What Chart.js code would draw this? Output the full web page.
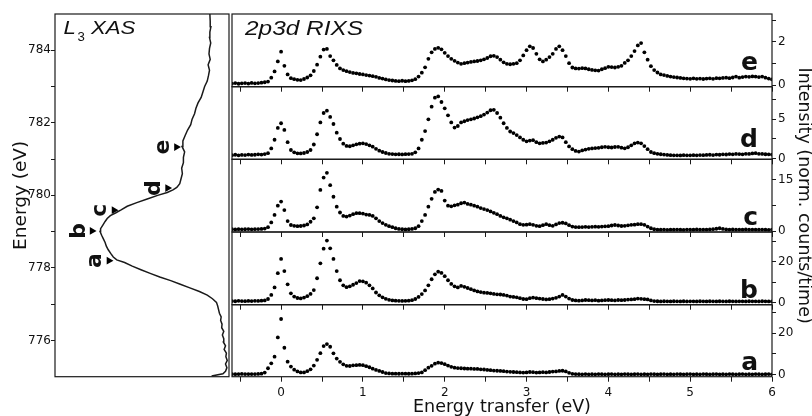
<!DOCTYPE html>
<html><head><meta charset="utf-8">
<script src="https://cdn.jsdelivr.net/npm/chart.js@4"></script>
<style>
html,body{margin:0;padding:0;background:#fff}
#wrap{position:relative;width:812px;height:416px;background:#fff;overflow:hidden}
#wrap canvas{position:absolute;left:0;top:0}
</style></head>
<body><div id="wrap"></div>
<script>
// ---------- DATA ----------
// energy transfer grid (eV) shared by the five RIXS spectra
const transferEV = [
-0.60,-0.56,-0.52,-0.48,-0.44,-0.40,-0.36,-0.32,-0.28,-0.24,
-0.20,-0.16,-0.12,-0.08,-0.04,0.00,0.04,0.08,0.12,0.16,
0.20,0.24,0.28,0.32,0.36,0.40,0.44,0.48,0.52,0.56,
0.60,0.64,0.68,0.72,0.76,0.80,0.84,0.88,0.92,0.96,
1.00,1.04,1.08,1.12,1.16,1.20,1.24,1.28,1.32,1.36,
1.40,1.44,1.48,1.52,1.56,1.60,1.64,1.68,1.72,1.76,
1.80,1.84,1.88,1.92,1.96,2.00,2.04,2.08,2.12,2.16,
2.20,2.24,2.28,2.32,2.36,2.40,2.44,2.48,2.52,2.56,
2.60,2.64,2.68,2.72,2.76,2.80,2.84,2.88,2.92,2.96,
3.00,3.04,3.08,3.12,3.16,3.20,3.24,3.28,3.32,3.36,
3.40,3.44,3.48,3.52,3.56,3.60,3.64,3.68,3.72,3.76,
3.80,3.84,3.88,3.92,3.96,4.00,4.04,4.08,4.12,4.16,
4.20,4.24,4.28,4.32,4.36,4.40,4.44,4.48,4.52,4.56,
4.60,4.64,4.68,4.72,4.76,4.80,4.84,4.88,4.92,4.96,
5.00,5.04,5.08,5.12,5.16,5.20,5.24,5.28,5.32,5.36,
5.40,5.44,5.48,5.52,5.56,5.60,5.64,5.68,5.72,5.76,
5.80,5.84,5.88,5.92,5.96,6.00];

const rixsE = [
0.08,0.10,0.07,0.09,0.10,0.08,0.11,0.09,0.10,0.12,
0.14,0.17,0.35,0.64,1.10,1.55,0.90,0.50,0.33,0.28,
0.25,0.24,0.29,0.36,0.46,0.66,0.95,1.32,1.65,1.68,
1.35,1.15,0.94,0.78,0.70,0.65,0.61,0.57,0.55,0.52,
0.50,0.47,0.45,0.42,0.39,0.34,0.31,0.27,0.24,0.22,
0.20,0.19,0.21,0.19,0.20,0.23,0.28,0.40,0.58,0.83,
1.22,1.52,1.68,1.73,1.66,1.50,1.35,1.22,1.13,1.05,
0.99,1.02,1.05,1.08,1.10,1.12,1.15,1.20,1.26,1.34,
1.36,1.30,1.18,1.06,0.99,0.97,0.99,1.02,1.15,1.38,
1.62,1.80,1.72,1.45,1.20,1.10,1.18,1.30,1.45,1.68,
1.80,1.62,1.35,1.02,0.82,0.78,0.77,0.79,0.78,0.74,
0.71,0.69,0.68,0.74,0.79,0.85,0.84,0.82,0.85,0.90,
1.03,1.15,1.35,1.58,1.84,1.95,1.52,1.18,0.88,0.70,
0.59,0.50,0.47,0.43,0.40,0.38,0.36,0.34,0.32,0.31,
0.30,0.32,0.30,0.31,0.29,0.31,0.32,0.30,0.33,0.32,
0.34,0.35,0.33,0.36,0.40,0.35,0.38,0.40,0.39,0.41,
0.40,0.38,0.40,0.35,0.31,0.27];

const rixsD = [
0.45,0.50,0.42,0.48,0.46,0.52,0.47,0.50,0.55,0.52,
0.58,0.70,1.30,2.40,3.90,4.50,3.65,2.10,1.10,0.80,
0.68,0.66,0.72,0.85,1.10,1.80,3.10,4.60,5.80,6.10,
5.30,4.40,3.30,2.50,1.90,1.62,1.58,1.70,1.82,1.90,
1.95,1.85,1.70,1.52,1.25,1.02,0.85,0.72,0.62,0.58,
0.55,0.56,0.54,0.57,0.58,0.62,0.80,1.30,2.40,3.50,
5.00,6.60,7.75,7.90,7.20,6.40,5.50,4.60,3.95,4.15,
4.60,4.75,4.90,5.00,5.10,5.25,5.40,5.60,5.85,6.15,
6.20,5.80,5.20,4.50,3.90,3.45,3.25,3.00,2.70,2.40,
2.20,2.30,2.35,2.10,1.95,2.00,2.05,2.20,2.40,2.65,
2.80,2.70,2.10,1.55,1.20,0.98,0.90,1.05,1.15,1.25,
1.30,1.35,1.38,1.45,1.50,1.45,1.42,1.48,1.50,1.40,
1.32,1.45,1.70,1.95,2.05,1.95,1.60,1.20,0.85,0.70,
0.62,0.56,0.52,0.48,0.45,0.42,0.43,0.41,0.44,0.42,
0.43,0.45,0.42,0.46,0.44,0.47,0.50,0.46,0.52,0.50,
0.55,0.53,0.58,0.55,0.60,0.58,0.55,0.62,0.60,0.66,
0.70,0.62,0.60,0.56,0.55,0.52];

const rixsC = [
0.60,0.55,0.62,0.58,0.60,0.65,0.58,0.62,0.66,0.70,
0.80,1.20,2.60,4.80,7.50,8.70,6.20,3.00,1.85,1.60,
1.50,1.55,1.70,2.00,2.80,3.80,7.00,12.1,15.7,17.1,
13.5,10.1,7.2,5.5,4.5,4.3,4.6,5.0,5.3,5.3,
5.2,4.9,4.8,4.5,3.8,3.0,2.4,1.9,1.5,1.2,
0.9,0.7,0.6,0.55,0.6,0.7,0.9,1.5,3.0,4.8,
7.2,9.5,11.5,12.2,11.8,9.0,7.5,7.3,7.6,7.8,
8.2,8.4,8.0,7.8,7.5,7.2,6.8,6.5,6.2,5.8,
5.4,5.0,4.5,4.1,3.8,3.4,3.0,2.6,2.1,1.9,
1.95,2.1,1.9,1.6,1.5,1.8,2.1,1.8,1.6,2.0,
2.4,2.5,2.3,1.8,1.4,1.25,1.2,1.25,1.3,1.25,
1.3,1.35,1.3,1.4,1.45,1.5,1.7,1.85,1.7,1.55,
1.6,1.75,1.9,1.95,2.1,2.1,1.9,1.4,0.9,0.6,
0.5,0.48,0.52,0.45,0.50,0.47,0.52,0.48,0.45,0.50,
0.47,0.50,0.55,0.48,0.52,0.50,0.55,0.62,0.75,0.90,
0.70,0.55,0.50,0.53,0.48,0.52,0.50,0.55,0.48,0.52,
0.50,0.47,0.52,0.48,0.45,0.50];

const rixsB = [
0.8,0.7,0.9,0.8,0.75,0.85,0.8,0.9,0.85,1.0,
1.1,1.8,3.8,7.5,14.5,21.5,15.5,9.0,4.6,3.0,
2.3,2.1,2.5,3.2,4.3,6.2,12.0,19.3,26.5,30.5,
26.7,21.5,15.5,11.0,8.5,7.6,8.0,8.8,9.6,10.6,
10.5,9.8,8.5,7.0,5.0,3.6,2.6,1.9,1.4,1.1,
1.0,0.9,0.85,0.9,1.0,1.2,1.8,2.8,4.2,6.0,
8.5,11.5,13.9,15.2,14.6,13.0,11.0,9.2,8.0,7.5,
8.2,7.8,7.2,6.6,6.0,5.5,5.2,4.9,4.8,4.6,
4.3,4.1,4.0,3.8,3.5,3.0,2.8,2.6,2.2,1.8,
1.7,2.2,2.5,2.2,2.0,1.8,1.6,1.7,2.0,2.4,
3.0,3.8,3.0,2.0,1.3,1.1,1.0,1.1,1.3,1.2,
1.1,1.2,1.0,1.1,1.2,1.3,1.2,1.1,1.3,1.2,
1.3,1.5,1.6,1.7,2.0,1.9,1.7,1.6,1.1,0.8,
0.7,0.6,0.7,0.65,0.6,0.7,0.65,0.6,0.7,0.62,
0.68,0.65,0.6,0.7,0.65,0.6,0.7,0.65,0.62,0.7,
0.66,0.6,0.7,0.65,0.62,0.68,0.65,0.6,0.7,0.64,
0.66,0.6,0.7,0.65,0.62,0.6];

const rixsA = [
0.3,0.25,0.3,0.35,0.3,0.28,0.32,0.3,0.35,0.5,
1.0,3.1,5.5,8.7,18.0,26.9,13.0,6.3,3.9,2.4,
1.6,1.1,1.1,1.7,2.6,4.4,7.2,10.4,13.8,14.8,
13.5,10.3,7.8,6.2,5.0,4.3,4.2,4.5,4.6,4.7,
4.6,4.1,3.6,2.9,2.3,1.8,1.3,0.8,0.6,0.5,
0.5,0.45,0.5,0.5,0.45,0.5,0.6,0.8,1.1,2.2,
3.4,4.3,5.3,5.8,5.6,5.1,4.4,3.8,3.4,3.2,
3.1,3.0,2.9,2.9,2.8,2.8,2.6,2.5,2.3,2.2,
2.0,1.9,1.8,1.7,1.5,1.4,1.3,1.2,1.1,1.0,
1.1,1.3,1.2,1.0,1.1,1.2,1.1,1.3,1.5,1.6,
1.8,1.9,1.6,0.9,0.4,0.3,0.25,0.2,0.3,0.2,
0.25,0.2,0.3,0.25,0.2,0.25,0.3,0.2,0.25,0.2,
0.3,0.25,0.2,0.25,0.3,0.2,0.25,0.2,0.3,0.25,
0.2,0.25,0.3,0.2,0.25,0.2,0.3,0.25,0.2,0.25,
0.3,0.2,0.25,0.2,0.3,0.25,0.2,0.25,0.3,0.2,
0.25,0.2,0.3,0.25,0.2,0.25,0.3,0.2,0.25,0.2,
0.3,0.25,0.2,0.25,0.3,0.2];

// L3 XAS (energy vertical, intensity horizontal, arb. units)
const xasEnergy = [
775.02,775.08,775.15,775.25,775.35,775.45,775.55,775.65,775.75,775.85,
775.95,776.05,776.15,776.25,776.35,776.45,776.55,776.65,776.75,776.85,
776.95,777.05,777.15,777.25,777.35,777.45,777.55,777.65,777.75,777.85,
777.95,778.05,778.15,778.22,778.30,778.40,778.50,778.60,778.70,778.80,
778.90,779.00,779.08,779.18,779.28,779.36,779.44,779.52,779.60,779.70,
779.80,779.90,780.00,780.08,780.15,780.22,780.32,780.45,780.60,780.75,
780.90,781.05,781.20,781.35,781.50,781.65,781.80,781.95,782.10,782.25,
782.40,782.55,782.70,782.85,783.00,783.15,783.30,783.45,783.60,783.75,
783.90,784.05,784.20,784.35,784.50,784.65,784.80,785.00];
const xasIntensity = [
0.10,0.035,0.02,0.012,0.02,0.010,0.018,0.015,0.028,0.020,
0.032,0.030,0.038,0.030,0.042,0.040,0.048,0.045,0.055,0.060,
0.065,0.072,0.095,0.125,0.17,0.225,0.28,0.335,0.398,0.453,
0.506,0.556,0.60,0.645,0.665,0.680,0.694,0.705,0.712,0.722,
0.732,0.741,0.738,0.725,0.712,0.700,0.682,0.650,0.620,0.585,
0.530,0.470,0.410,0.355,0.322,0.300,0.283,0.276,0.268,0.272,
0.262,0.262,0.255,0.270,0.265,0.252,0.238,0.220,0.212,0.198,
0.190,0.178,0.160,0.150,0.140,0.125,0.118,0.112,0.120,0.108,
0.115,0.112,0.105,0.112,0.110,0.104,0.108,0.110];

const markerLetters = ['a','b','c','d','e'];
const markerEnergy = [778.20,779.02,779.59,780.20,781.33];
const markerIntensity = [0.690,0.787,0.661,0.353,0.302];

const xasTicks = [776,777,778,779,780,781,782,783,784];
const xasTickLabels = [776,778,780,782,784];
const transferTicks = [-0.5,0,0.5,1,1.5,2,2.5,3,3.5,4,4.5,5,5.5,6];
const transferTickLabels = [0,1,2,3,4,5,6];
const ticksE = [0,1,2,3],     labelsE = [0,2];
const ticksD = [0,2.5,5,7.5], labelsD = [0,5];
const ticksC = [0,7.5,15],    labelsC = [0,15];
const ticksB = [0,10,20,30],  labelsB = [0,20];
const ticksA = [0,10,20,30],  labelsA = [0,20];

// ---------- RENDER ----------
Chart.defaults.font.family = "'DejaVu Sans', sans-serif";
Chart.defaults.color = '#111';
const INK = '#1a1a1a';
const W = 812, H = 416;
const wrap = document.getElementById('wrap');
function makeCanvas(){ const c = document.createElement('canvas'); c.width = W; c.height = H; c.style.width = W+'px'; c.style.height = H+'px'; wrap.appendChild(c); return c; }

const framePlugin = { id:'frame', afterDraw(chart){
  const {ctx, chartArea:a} = chart; ctx.save(); ctx.strokeStyle = INK; ctx.lineWidth = 1.2;
  ctx.strokeRect(a.left, a.top, a.right-a.left, a.bottom-a.top); ctx.restore(); } };

function stretchText(ctx, text, x, y, font, sx){
  ctx.save(); ctx.font = font; ctx.fillStyle = '#111'; ctx.textAlign = 'left'; ctx.textBaseline = 'alphabetic';
  ctx.translate(x, y); ctx.scale(sx, 1); ctx.fillText(text, 0, 0); ctx.restore();
}

const xasTextPlugin = { id:'xasText', afterDraw(chart){
  const ctx = chart.ctx, xs = chart.scales.x, ys = chart.scales.y;
  stretchText(ctx, 'L', 63.5, 34, "italic 18.5px 'Liberation Sans'", 1.2);
  stretchText(ctx, '3', 77.5, 41, "12px 'Liberation Sans'", 1.1);
  stretchText(ctx, 'XAS', 91, 34, "italic 18.5px 'Liberation Sans'", 1.2);
  ctx.save(); ctx.fillStyle = '#111'; ctx.font = "bold 22px 'DejaVu Sans'";
  ctx.textAlign = 'center'; ctx.textBaseline = 'alphabetic';
  markerLetters.forEach((l,i)=>{
    const px = xs.getPixelForValue(markerIntensity[i]) - 7.5;
    const py = ys.getPixelForValue(markerEnergy[i]);
    ctx.save(); ctx.translate(px, py); ctx.rotate(-Math.PI/2); ctx.fillText(l, 0, 0); ctx.restore();
  });
  ctx.restore();
} };

new Chart(makeCanvas(), {
  type:'scatter',
  data:{ datasets:[
    { data: xasEnergy.map((e,i)=>({x:xasIntensity[i], y:e})), showLine:true, borderColor:INK, borderWidth:1.5, pointRadius:0, tension:0 },
    { data: markerEnergy.map((e,i)=>({x:markerIntensity[i], y:e})), showLine:false, pointStyle:'triangle', pointRotation:90, pointRadius:4.5, pointBackgroundColor:'#000', pointBorderColor:'#000', pointBorderWidth:0 }
  ]},
  options:{
    responsive:false, animation:false, devicePixelRatio:1,
    layout:{ padding:{ left:0, right:W-229, top:14, bottom:H-376.7 } },
    plugins:{ legend:{display:false}, tooltip:{enabled:false} },
    scales:{
      x:{ type:'linear', reverse:true, min:0, max:1, display:false },
      y:{ type:'linear', position:'left', min:775, max:785,
        afterFit(s){ s.width = 55; },
        afterBuildTicks(s){ s.ticks = xasTicks.map(v=>({value:v})); },
        ticks:{ autoSkip:false, padding:0, font:{size:12}, color:'#111', callback:v=> xasTickLabels.includes(v) ? String(v) : '' },
        grid:{ drawOnChartArea:false, tickLength:4, color:INK },
        border:{ display:false },
        title:{ display:true, text:'Energy (eV)', font:{size:18.5, lineHeight:1.2}, padding:{top:10,bottom:0}, color:'#111' }
      }
    }
  },
  plugins:[framePlugin, xasTextPlugin]
});

const panels = [
  { letter:'e', values:rixsE, ticks:ticksE, labels:labelsE, min:-0.065, max:3.29, top:14,    bottom:86.7,  letterBase:70 },
  { letter:'d', values:rixsD, ticks:ticksD, labels:labelsD, min:-0.08,  max:9.14, top:86.7,  bottom:159.3, letterBase:146.5 },
  { letter:'c', values:rixsC, ticks:ticksC, labels:labelsC, min:-0.2,   max:21.05,top:159.3, bottom:232,   letterBase:225, yTitle:true },
  { letter:'b', values:rixsB, ticks:ticksB, labels:labelsB, min:-1.0,   max:34.7, top:232,   bottom:304.7, letterBase:298 },
  { letter:'a', values:rixsA, ticks:ticksA, labels:labelsA, min:-0.97,  max:33.8, top:304.7, bottom:376.7, letterBase:370, xLabels:true }
];

panels.forEach((p, idx) => {
  const xH = p.xLabels ? (H - p.bottom) : 8;
  const letterPlugin = { id:'letter'+idx, afterDraw(chart){
    const ctx = chart.ctx; ctx.save(); ctx.fillStyle = '#111'; ctx.font = "bold 25px 'DejaVu Sans'";
    ctx.textAlign = 'right'; ctx.textBaseline = 'alphabetic'; ctx.fillText(p.letter, 758, p.letterBase); ctx.restore();
    if (idx === 0) stretchText(ctx, '2p3d RIXS', 245, 34.7, "italic 20.5px 'Liberation Sans'", 1.19);
  } };
  new Chart(makeCanvas(), {
    type:'scatter',
    data:{ datasets:[{ data: transferEV.map((x,i)=>({x, y:p.values[i]})), showLine:false,
      pointRadius:1.9, pointBackgroundColor:'#000', pointBorderWidth:0, pointBorderColor:'#000' }] },
    options:{
      responsive:false, animation:false, devicePixelRatio:1,
      layout:{ padding:{ left:232, right:0, top:p.top, bottom: H - p.bottom - xH } },
      plugins:{ legend:{display:false}, tooltip:{enabled:false} },
      scales:{
        x:{ type:'linear', position:'bottom', min:-0.6, max:6,
          afterFit(s){ s.height = xH; },
          afterBuildTicks(s){ s.ticks = transferTicks.map(v=>({value:v})); },
          ticks:{ display:!!p.xLabels, autoSkip:false, maxRotation:0, padding:4, font:{size:12}, color:'#111',
            callback:v=> transferTickLabels.includes(v) ? String(v) : '' },
          grid:{ drawOnChartArea:false, tickLength:5, color:INK },
          border:{ display:false },
          title:{ display:!!p.xLabels, text:'Energy transfer (eV)', font:{size:17.5, lineHeight:1}, padding:{top:0,bottom:0}, color:'#111' }
        },
        y:{ type:'linear', position:'right', min:p.min, max:p.max,
          afterFit(s){ s.width = 40; },
          afterBuildTicks(s){ s.ticks = p.ticks.map(v=>({value:v})); },
          ticks:{ autoSkip:false, padding:2, font:{size:12}, color:'#111',
            callback:v=> p.labels.includes(v) ? String(v) : '' },
          grid:{ drawOnChartArea:false, tickLength:4, color:INK },
          border:{ display:false },
          title:{ display:!!p.yTitle, text:'Intensity (norm. counts/time)', font:{size:17.5, lineHeight:1}, padding:{top:0,bottom:0}, color:'#111' }
        }
      }
    },
    plugins:[framePlugin, letterPlugin]
  });
});
</script></body></html>
